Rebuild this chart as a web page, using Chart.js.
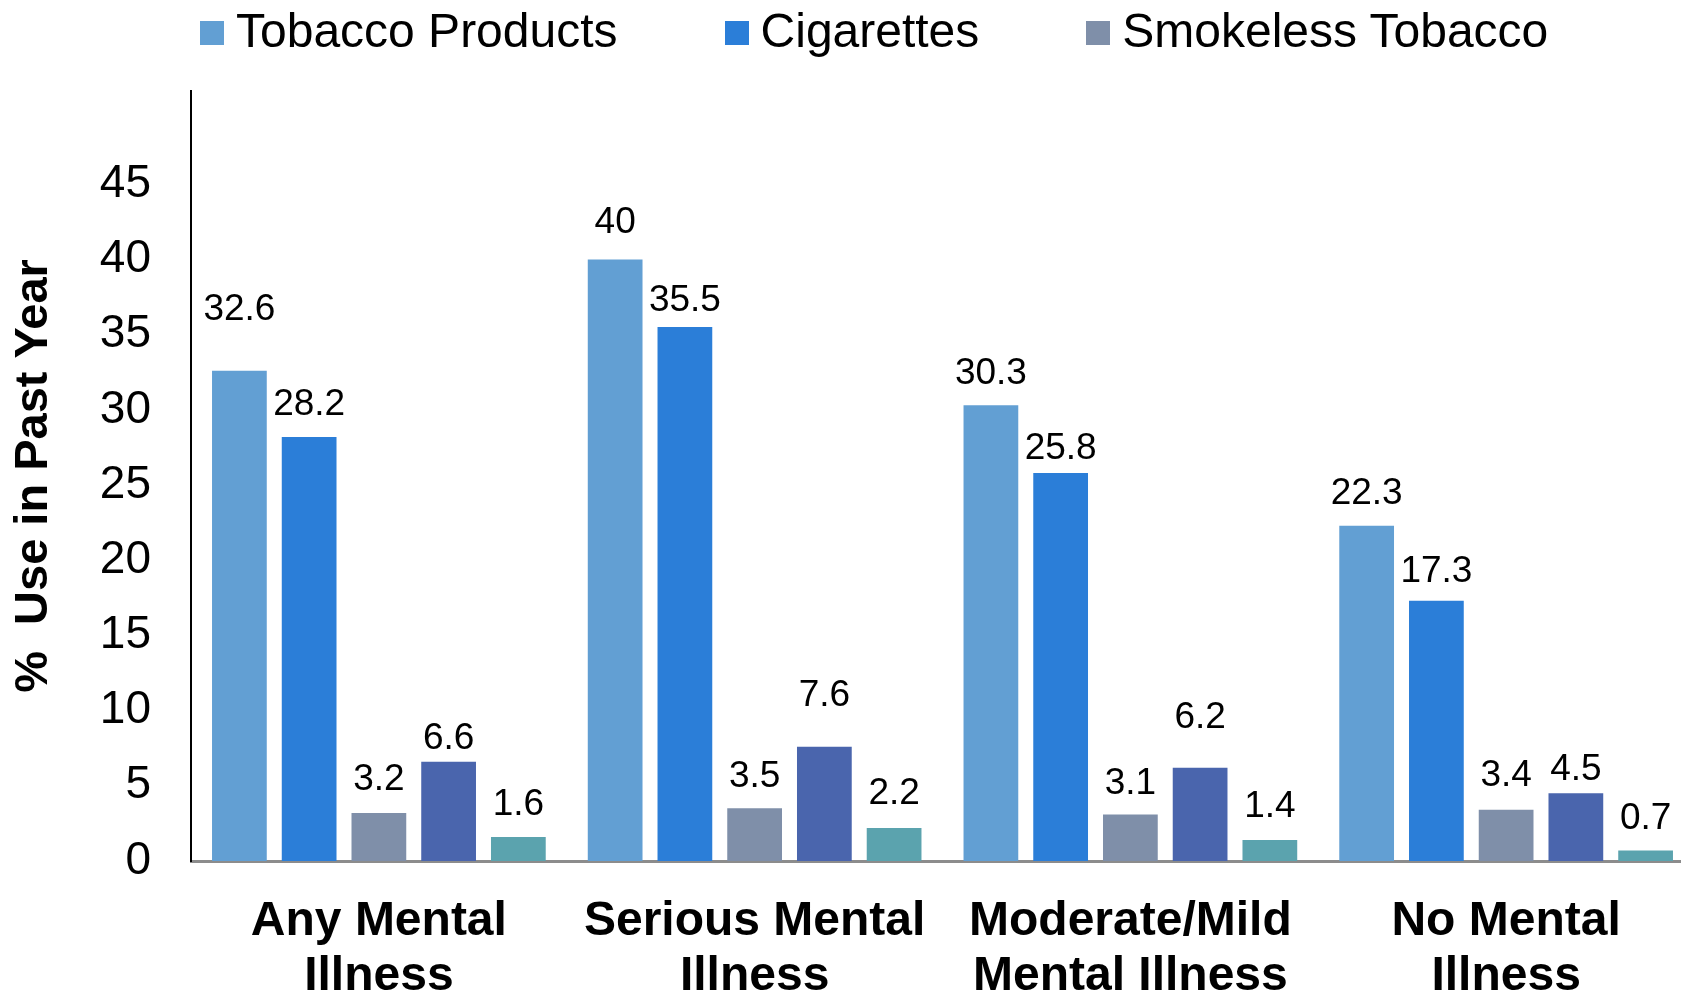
<!DOCTYPE html>
<html>
<head>
<meta charset="utf-8">
<title>Tobacco use by mental illness status</title>
<script src="https://cdn.jsdelivr.net/npm/chart.js@4.4.0/dist/chart.umd.min.js"></script>
<style>
  html, body { margin: 0; padding: 0; background: #fff; overflow: hidden; }
  #wrap { position: relative; width: 1681px; height: 991px; overflow: hidden; }
  #tobaccoChart { display: block; }
  #legend {
    position: absolute; left: 200px; top: 3px;
    display: flex; gap: 107px;
    font: 48px "Liberation Sans", Arial, sans-serif; line-height: 56px; color: #000;
  }
  .item { display: flex; align-items: center; white-space: pre; }
  .box { width: 24px; height: 24px; margin-right: 12px; margin-top: 3px; }
</style>
</head>
<body>
<div id="wrap">
  <div id="legend"></div>
  <canvas id="tobaccoChart" width="1694" height="991"></canvas>
</div>
<script>
const FONT = '"Liberation Sans", Arial, sans-serif';

// Categories (x axis, two lines each)
const categories = [
  ['Any Mental', 'Illness'],
  ['Serious Mental', 'Illness'],
  ['Moderate/Mild', 'Mental Illness'],
  ['No Mental', 'Illness']
];

// Series names (only the first three are shown in the legend)
const seriesNames = ['Tobacco Products', 'Cigarettes', 'Smokeless Tobacco', 'Cigars', 'Pipe Tobacco'];
const seriesColors = ['#629fd3', '#2b7ed8', '#7f8fa9', '#4a65ad', '#5ba3ae'];
const legendCount = 3;

// % use in past year
const tobaccoProducts = [32.6, 40, 30.3, 22.3];
const cigarettes = [28.2, 35.5, 25.8, 17.3];
const smokeless = [3.2, 3.5, 3.1, 3.4];
const cigars = [6.6, 7.6, 6.2, 4.5];
const pipeTobacco = [1.6, 2.2, 1.4, 0.7];

// y axis tick labels
const yTicks = [0, 5, 10, 15, 20, 25, 30, 35, 40, 45];

// how far each value label sits above its bar (px), per series / category
const labelLift = [
  [61, 37, 32, 32],
  [32, 26, 24, 29],
  [33, 32, 31, 34],
  [23, 51, 50, 24],
  [32, 34, 33, 32]
];

const seriesData = [tobaccoProducts, cigarettes, smokeless, cigars, pipeTobacco];

// value labels above the bars
const valueLabels = {
  id: 'valueLabels',
  afterDatasetsDraw(chart) {
    const ctx = chart.ctx;
    ctx.save();
    ctx.font = '37px ' + FONT;
    ctx.fillStyle = '#000';
    ctx.textAlign = 'center';
    ctx.textBaseline = 'middle';
    chart.data.datasets.forEach((ds, i) => {
      chart.getDatasetMeta(i).data.forEach((bar, j) => {
        ctx.fillText(String(ds.data[j]), bar.x, bar.y - labelLift[i][j]);
      });
    });
    ctx.restore();
  }
};

// html legend
const legendEl = document.getElementById('legend');
seriesNames.slice(0, legendCount).forEach((name, i) => {
  const item = document.createElement('div');
  item.className = 'item';
  const box = document.createElement('span');
  box.className = 'box';
  box.style.background = seriesColors[i];
  item.appendChild(box);
  item.appendChild(document.createTextNode(name));
  legendEl.appendChild(item);
});

const ctx = document.getElementById('tobaccoChart').getContext('2d');
new Chart(ctx, {
  type: 'bar',
  data: {
    labels: categories,
    datasets: seriesData.map((d, i) => ({
      label: seriesNames[i],
      data: d,
      backgroundColor: seriesColors[i],
      borderWidth: 0,
      categoryPercentage: 0.928,
      barPercentage: 0.785
    }))
  },
  options: {
    responsive: false,
    animation: false,
    layout: { padding: { top: 91, bottom: 0, left: 0, right: 0 } },
    plugins: {
      legend: { display: false },
      tooltip: { enabled: false }
    },
    scales: {
      x: {
        afterFit: scale => { scale.height = 130; },
        grid: { display: false, drawTicks: false },
        border: { display: true, color: '#8c8c8c', width: 3 },
        ticks: {
          color: '#000',
          padding: 34,
          maxRotation: 0,
          autoSkip: false,
          font: { family: FONT, size: 48, weight: 'bold', lineHeight: 1.13 }
        }
      },
      y: {
        min: 0,
        max: 51.2,
        afterBuildTicks: scale => { scale.ticks = yTicks.map(v => ({ value: v })); },
        afterFit: scale => { scale.width = 191; },
        grid: { display: false, drawTicks: false },
        border: { display: true, color: '#000', width: 2 },
        ticks: {
          color: '#000',
          padding: 40,
          font: { family: FONT, size: 46 }
        },
        title: {
          display: true,
          text: '%  Use in Past Year',
          color: '#000',
          padding: { top: 6, bottom: 0 },
          font: { family: FONT, size: 47, weight: 'bold' }
        }
      }
    }
  },
  plugins: [valueLabels]
});
</script>
</body>
</html>
